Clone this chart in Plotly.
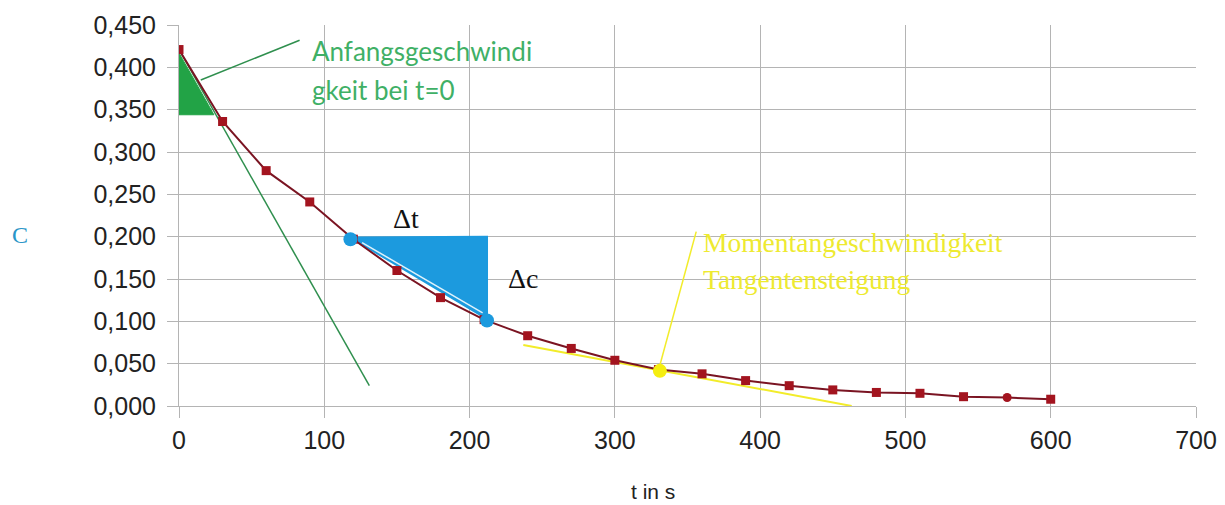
import plotly.graph_objects as go

# measured data
t_values = [0, 30, 60, 90, 120, 150, 180, 210, 240, 270, 300, 330, 360, 390, 420, 450, 480, 510, 540, 570, 600]
c_values = [0.421, 0.336, 0.278, 0.241, 0.197, 0.160, 0.128, 0.102, 0.083, 0.068, 0.054, 0.043, 0.038, 0.030,
            0.024, 0.019, 0.016, 0.015, 0.011, 0.010, 0.008]
marker_symbols = ["square"] * 19 + ["circle", "square"]

# hand-drawn overlays (data coordinates)
green_tri_t = [0, 0, 24, 0]
green_tri_c = [0.417, 0.344, 0.344, 0.417]
green_tangent_t = [0, 131]
green_tangent_c = [0.421, 0.024]
green_pointer_t = [83, 15]
green_pointer_c = [0.432, 0.385]

blue_tri_t = [118, 212, 212, 118]
blue_tri_c = [0.199, 0.200, 0.103, 0.199]
blue_inner_t = [126, 209]
blue_inner_c = [0.193, 0.110]
blue_dots_t = [118, 212]
blue_dots_c = [0.197, 0.101]

yellow_tangent_t = [237, 463]
yellow_tangent_c = [0.072, 0.0]
yellow_pointer_t = [330, 356]
yellow_pointer_c = [0.042, 0.206]
yellow_dot_t = [331]
yellow_dot_c = [0.0415]

x_ticks = [0, 100, 200, 300, 400, 500, 600, 700]
y_ticks = [0, 0.05, 0.10, 0.15, 0.20, 0.25, 0.30, 0.35, 0.40, 0.45]

GRID = "#b4b4b4"

fig = go.Figure()

fig.add_trace(go.Scatter(x=green_tri_t, y=green_tri_c, mode="lines", fill="toself",
                         fillcolor="#22a346", line=dict(color="#22a346", width=1), hoverinfo="skip"))
fig.add_trace(go.Scatter(x=blue_tri_t, y=blue_tri_c, mode="lines", fill="toself",
                         fillcolor="#1c9ade", line=dict(color="#1c9ade", width=2), hoverinfo="skip"))
fig.add_trace(go.Scatter(x=blue_inner_t, y=blue_inner_c, mode="lines",
                         line=dict(color="#dff2fb", width=1.5), hoverinfo="skip"))
fig.add_trace(go.Scatter(x=green_tangent_t, y=green_tangent_c, mode="lines",
                         line=dict(color="#2f8f4e", width=1.5), hoverinfo="skip"))
fig.add_trace(go.Scatter(x=green_pointer_t, y=green_pointer_c, mode="lines",
                         line=dict(color="#2f8f4e", width=1.5), hoverinfo="skip"))
fig.add_trace(go.Scatter(x=yellow_tangent_t, y=yellow_tangent_c, mode="lines",
                         line=dict(color="#f2ec2a", width=2), hoverinfo="skip"))
fig.add_trace(go.Scatter(x=yellow_pointer_t, y=yellow_pointer_c, mode="lines",
                         line=dict(color="#f2ec2a", width=1.5), hoverinfo="skip"))

fig.add_trace(go.Scatter(x=t_values, y=c_values, mode="lines+markers",
                         line=dict(color="#7a1422", width=2),
                         marker=dict(symbol=marker_symbols, size=9, color="#a3141f",
                                     line=dict(width=0))))

fig.add_trace(go.Scatter(x=blue_dots_t, y=blue_dots_c, mode="markers",
                         marker=dict(symbol="circle", size=14, color="#1c9ade")))
fig.add_trace(go.Scatter(x=yellow_dot_t, y=yellow_dot_c, mode="markers",
                         marker=dict(symbol="circle", size=14, color="#f5ee10")))

annotations = [
    dict(x=90, y=0.4195, text="Anfangsgeschwindi", font=dict(family="Lato", size=26, color="#3fb066")),
    dict(x=90, y=0.3735, text="gkeit bei t=0", font=dict(family="Lato", size=26, color="#3fb066")),
    dict(x=359, y=0.1937, text="Momentangeschwindigkeit",
         font=dict(family="Liberation Serif", size=27.5, color="#eeea30")),
    dict(x=359, y=0.150, text="Tangentensteigung",
         font=dict(family="Liberation Serif", size=27.5, color="#eeea30")),
]
for a in annotations:
    a.update(xref="x", yref="y", xanchor="left", yanchor="middle", showarrow=False)
annotations += [
    dict(x=156, y=0.222, text="\u0394t", xref="x", yref="y", showarrow=False,
         font=dict(family="Liberation Serif", size=28, color="#111111")),
    dict(x=237, y=0.151, text="\u0394c", xref="x", yref="y", showarrow=False,
         font=dict(family="Liberation Serif", size=28, color="#111111")),
    dict(x=-0.156, y=0.449, text="C", xref="paper", yref="paper", showarrow=False,
         xanchor="center", yanchor="middle",
         font=dict(family="Liberation Serif", size=24, color="#2a96c8")),
    dict(x=0.466, y=-0.2257, text="t in s", xref="paper", yref="paper", showarrow=False,
         xanchor="center", yanchor="middle",
         font=dict(family="Liberation Sans", size=21, color="#222222")),
]

# the page body adds an 8 px offset; size the figure so the plot area lands where the reference has it
fig.update_layout(
    width=1217, height=497,
    margin=dict(l=171, r=29, t=17, b=99, autoexpand=False),
    paper_bgcolor="white", plot_bgcolor="white",
    showlegend=False,
    separators=",.",
    annotations=annotations,
    font=dict(family="Liberation Sans", size=25, color="#222222"),
)
fig.update_xaxes(range=[0, 700], tickvals=x_ticks, showgrid=True, gridcolor=GRID, gridwidth=1,
                 zeroline=False, showline=True, linecolor=GRID, linewidth=1, automargin=False,
                 ticks="outside", ticklen=11, tickcolor=GRID, ticklabelstandoff=1,
                 tickfont=dict(family="Liberation Sans", size=25, color="#222222"))
fig.update_yaxes(range=[0, 0.45], tickvals=y_ticks, tickformat=".3f", showgrid=True, gridcolor=GRID,
                 gridwidth=1, zeroline=False, showline=True, linecolor=GRID, linewidth=1, automargin=False,
                 ticks="outside", ticklen=11, tickcolor=GRID, ticklabelstandoff=6,
                 tickfont=dict(family="Liberation Sans", size=25, color="#222222"))

fig.write_html("out.html")
